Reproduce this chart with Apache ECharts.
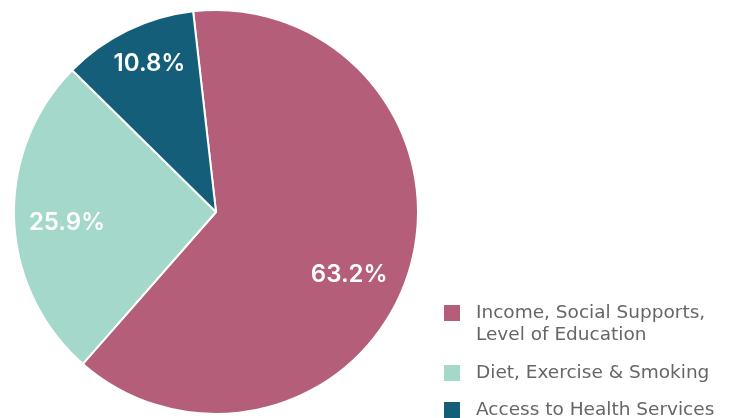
<!DOCTYPE html>
<html>
<head>
<meta charset="utf-8">
<script src="https://cdn.jsdelivr.net/npm/echarts@6/dist/echarts.min.js"></script>
<style>
  html, body { margin: 0; padding: 0; background: #ffffff; }
  #chart { width: 737px; height: 418px; }
</style>
</head>
<body>
<div id="chart"></div>
<script>
// Share of health outcomes by determinant group
const categories = [
  'Income, Social Supports, Level of Education',
  'Diet, Exercise & Smoking',
  'Access to Health Services'
];
// The wrapped entry gets an empty leading line so its swatch sits beside line one
const legendLabels = [
  '\nIncome, Social Supports,\nLevel of Education',
  'Diet, Exercise & Smoking',
  'Access to Health Services'
];
const shares = [63.2, 25.9, 10.8];
const colors = ['#b55e79', '#a3d8cb', '#155e7a'];

// Nudge each inside label outward from the default mid-radius spot
const labelOffsets = [[34, 32], [-45, 7], [-21, -55]];

const LABEL_FONT = 'Inter, "Noto Sans", sans-serif';
const LEGEND_FONT = '"DejaVu Sans", "Noto Sans", sans-serif';

const data = categories.map((name, i) => ({
  name: name,
  value: shares[i],
  itemStyle: { color: colors[i] },
  label: { offset: labelOffsets[i] }
}));

// One legend block per entry
const legendTops = [280, 362, 399];
const legends = categories.map((name, i) => ({
  data: [{ name: name, icon: 'rect' }],
  orient: 'vertical',
  left: 444,
  top: legendTops[i],
  padding: 0,
  itemWidth: 16,
  itemHeight: 16,
  itemStyle: { borderWidth: 0 },
  selectedMode: false,
  formatter: () => legendLabels[i],
  textStyle: {
    fontFamily: LEGEND_FONT,
    fontSize: 18.5,
    color: '#666666',
    lineHeight: 22,
    padding: [0, 0, 0, 11]
  }
}));

const chart = echarts.init(document.getElementById('chart'), null, { renderer: 'canvas' });
chart.setOption({
  animation: false,
  legend: legends,
  series: [{
    type: 'pie',
    center: [216, 212],
    radius: [0, 202],
    startAngle: 96.5,
    clockwise: true,
    avoidLabelOverlap: false,
    itemStyle: { borderColor: '#ffffff', borderWidth: 2 },
    label: {
      show: true,
      position: 'inside',
      formatter: p => p.value.toFixed(1) + '%',
      color: '#ffffff',
      fontFamily: LABEL_FONT,
      fontSize: 24,
      fontWeight: 600
    },
    labelLine: { show: false },
    emphasis: { disabled: true },
    data: data
  }]
});
</script>
</body>
</html>
